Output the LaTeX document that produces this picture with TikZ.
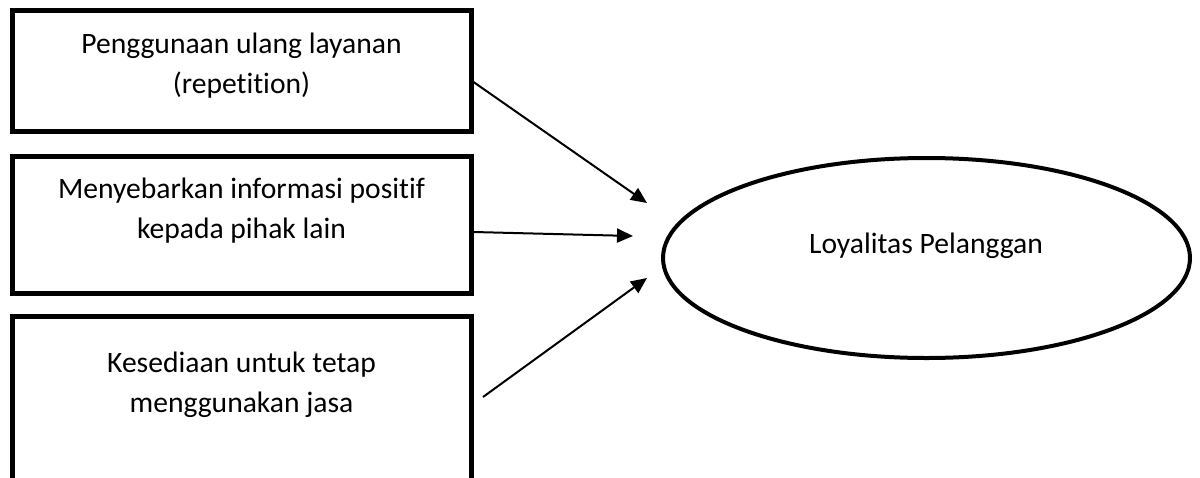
\documentclass[tikz,border=0pt]{standalone}
\usepackage{fontspec}
\setmainfont[Ligatures=CommonOff]{Carlito}
\usetikzlibrary{arrows.meta,shapes.geometric}
\begin{document}
\begin{tikzpicture}[x=0.5pt,y=-0.5pt,
  boxstyle/.style={draw,rectangle,line width=2.5pt,minimum width=229.5pt,inner sep=0pt},
  txt/.style={anchor=base,inner sep=0pt,font=\fontsize{14.8}{20}\selectfont},
  conn/.style={line width=1pt,-{Triangle[length=8pt,width=7pt]}}]
\useasboundingbox (0,0) rectangle (1200,477);
\clip (0,0) rectangle (1200,477);
\node[boxstyle,minimum height=60.5pt] (b1) at (241.5,70.5) {};
\node[boxstyle,minimum height=68.5pt] (b2) at (241.5,224.5) {};
\node[boxstyle,minimum height=102pt] (b3) at (241.5,418) {};
\node[txt] (t1) at (241.5,53) {\begin{tabular}[t]{@{}c@{}}Penggunaan ulang layanan\\(repetition)\end{tabular}};
\node[txt] (t2) at (241.5,198) {\begin{tabular}[t]{@{}c@{}}Menyebarkan informasi positif\\kepada pihak lain\end{tabular}};
\node[txt] (t3) at (241.5,372) {\begin{tabular}[t]{@{}c@{}}Kesediaan untuk tetap\\menggunakan jasa\end{tabular}};
\node[draw,ellipse,line width=2pt,minimum width=263.5pt,minimum height=100pt,inner sep=0pt] (el) at (926.5,258) {};
\node[txt] (elt) at (926,253) {Loyalitas Pelanggan};
\coordinate (s1) at (b1.north east |- 0,82);
\coordinate (s2) at (b2.north east |- 0,232);
\coordinate (s3) at (483,397);
\coordinate (e1) at (647,203);
\coordinate (e2) at (633,236);
\coordinate (e3) at (647,278);
\draw[conn] (s1) -- (e1);
\draw[conn] (s2) -- (e2);
\draw[conn] (s3) -- (e3);
\end{tikzpicture}
\end{document}
